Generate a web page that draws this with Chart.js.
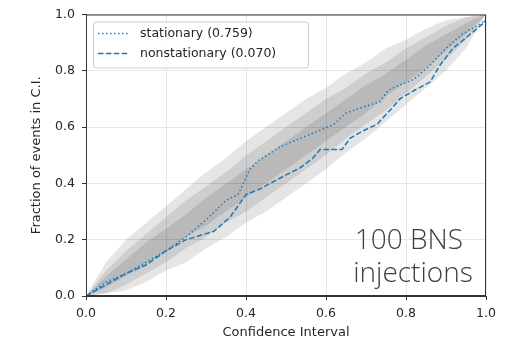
<!DOCTYPE html>
<html>
<head>
<meta charset="utf-8">
<script src="https://cdn.jsdelivr.net/npm/chart.js@4.4.0/dist/chart.umd.min.js"></script>
<style>
  html, body { margin: 0; padding: 0; background: #fff; }
  #wrap { width: 513px; height: 340px; }
</style>
</head>
<body>
<div id="wrap"><canvas id="c" width="513" height="340"></canvas></div>
<script>
// ---- Data ----
const tickLabels = ["0.0", "0.2", "0.4", "0.6", "0.8", "1.0"];

// confidence bands (binomial, 100 injections): x grid and lower/upper edges
const bandX = [0, 0.05, 0.1, 0.15, 0.2, 0.25, 0.3, 0.35, 0.4, 0.45, 0.5, 0.55, 0.6, 0.65, 0.7, 0.75, 0.8, 0.85, 0.9, 0.95, 1.0];
const lo1 = [0, 0.03, 0.07, 0.11, 0.16, 0.21, 0.25, 0.30, 0.35, 0.40, 0.45, 0.50, 0.55, 0.60, 0.65, 0.71, 0.76, 0.81, 0.87, 0.93, 1.0];
const hi1 = [0, 0.07, 0.13, 0.19, 0.24, 0.29, 0.35, 0.40, 0.45, 0.50, 0.55, 0.60, 0.65, 0.70, 0.75, 0.79, 0.84, 0.89, 0.93, 0.97, 1.0];
const lo2 = [0, 0.01, 0.04, 0.08, 0.12, 0.17, 0.21, 0.26, 0.30, 0.35, 0.40, 0.45, 0.50, 0.56, 0.61, 0.66, 0.72, 0.78, 0.84, 0.91, 1.0];
const hi2 = [0, 0.09, 0.16, 0.22, 0.28, 0.34, 0.39, 0.44, 0.50, 0.55, 0.60, 0.65, 0.70, 0.74, 0.79, 0.83, 0.88, 0.92, 0.96, 0.99, 1.0];
const lo3 = [0, 0.01, 0.02, 0.05, 0.09, 0.12, 0.17, 0.21, 0.26, 0.30, 0.35, 0.40, 0.45, 0.51, 0.56, 0.62, 0.68, 0.74, 0.80, 0.88, 1.0];
const hi3 = [0, 0.12, 0.20, 0.26, 0.32, 0.38, 0.44, 0.49, 0.55, 0.60, 0.65, 0.70, 0.74, 0.79, 0.83, 0.88, 0.91, 0.95, 0.98, 0.99, 1.0];

// stationary PP curve
const statX = [0, 0.05, 0.1, 0.15, 0.2, 0.25, 0.3, 0.35, 0.38, 0.41, 0.43, 0.485, 0.535, 0.57, 0.62, 0.65, 0.69, 0.735, 0.755, 0.785, 0.82, 0.86, 0.9, 0.94, 0.985, 1.0];
const statY = [0, 0.05, 0.08, 0.12, 0.16, 0.21, 0.27, 0.34, 0.36, 0.45, 0.48, 0.53, 0.56, 0.58, 0.61, 0.65, 0.67, 0.69, 0.73, 0.75, 0.77, 0.82, 0.88, 0.93, 0.965, 0.98];

// nonstationary PP curve
const nonX = [0, 0.05, 0.1, 0.15, 0.2, 0.25, 0.32, 0.36, 0.385, 0.40, 0.435, 0.46, 0.5, 0.535, 0.5675, 0.585, 0.64, 0.66, 0.69, 0.7275, 0.76, 0.785, 0.82, 0.86, 0.885, 0.9175, 0.9525, 0.99, 1.0];
const nonY = [0, 0.04, 0.08, 0.11, 0.16, 0.20, 0.23, 0.28, 0.33, 0.36, 0.38, 0.40, 0.43, 0.455, 0.49, 0.52, 0.52, 0.56, 0.585, 0.61, 0.66, 0.70, 0.73, 0.76, 0.82, 0.88, 0.92, 0.965, 0.98];

const seriesLabels = ["stationary (0.759)", "nonstationary (0.070)"];
const annotationLines = ["100 BNS", "injections"];

// ---- build ----
const pts = (xs, ys) => xs.map((x, i) => ({ x: x, y: ys[i] }));
const blue = '#1f77b4';
const bandFill = 'rgba(0,0,0,0.1)';

function bandPair(lo, hi, idxLo) {
  return [
    { data: pts(bandX, lo), borderWidth: 0, borderColor: 'rgba(0,0,0,0)', pointRadius: 0, fill: false, order: 5, tension: 0 },
    { data: pts(bandX, hi), borderWidth: 0, borderColor: 'rgba(0,0,0,0)', pointRadius: 0, fill: { target: idxLo }, backgroundColor: bandFill, order: 5, tension: 0 }
  ];
}

const datasets = [
  { label: seriesLabels[0], data: pts(statX, statY), borderColor: blue, borderWidth: 1.5, borderDash: [1.5, 2.5], pointRadius: 0, fill: false, order: 0, tension: 0 },
  { label: seriesLabels[1], data: pts(nonX, nonY), borderColor: blue, borderWidth: 1.5, borderDash: [5.5, 2.4], pointRadius: 0, fill: false, order: 0, tension: 0 },
  ...bandPair(lo3, hi3, 2),
  ...bandPair(lo2, hi2, 4),
  ...bandPair(lo1, hi1, 6)
];

const axisFont = { family: 'DejaVu Sans', size: 12.5 };
const titleFont = { family: 'DejaVu Sans', size: 13 };
const txtColor = '#262626';

const framePlugin = {
  id: 'frame',
  afterDraw(chart) {
    const { ctx, chartArea: a } = chart;
    ctx.save();
    // frame
    ctx.strokeStyle = '#333';
    ctx.lineWidth = 1;
    ctx.strokeRect(a.left + 0.5, a.top + 0.5, a.right - a.left - 1, a.bottom - a.top - 1);

    // legend
    const lx = a.left + 7, ly = a.top + 7, lw = 215, lh = 46;
    ctx.fillStyle = 'rgba(255,255,255,0.8)';
    ctx.strokeStyle = '#cccccc';
    ctx.lineWidth = 1;
    ctx.beginPath();
    if (ctx.roundRect) ctx.roundRect(lx + 0.5, ly + 0.5, lw, lh, 3); else ctx.rect(lx + 0.5, ly + 0.5, lw, lh);
    ctx.fill();
    ctx.stroke();
    ctx.font = '12.5px "DejaVu Sans"';
    ctx.textBaseline = 'middle';
    for (let i = 0; i < 2; i++) {
      const ds = chart.data.datasets[i];
      const yy = ly + 12 + i * 20;
      ctx.strokeStyle = ds.borderColor;
      ctx.lineWidth = ds.borderWidth;
      ctx.setLineDash(ds.borderDash);
      ctx.beginPath();
      ctx.moveTo(lx + 5, yy);
      ctx.lineTo(lx + 35, yy);
      ctx.stroke();
      ctx.setLineDash([]);
      ctx.fillStyle = txtColor;
      ctx.fillText(ds.label, lx + 47, yy);
    }

    // annotation
    ctx.fillStyle = '#404040';
    ctx.font = '300 28px "Open Sans"';
    ctx.textBaseline = 'alphabetic';
    ctx.textAlign = 'left';
    const xs = chart.scales.x, ys = chart.scales.y;
    ctx.fillText(annotationLines[0], xs.getPixelForValue(0.672), ys.getPixelForValue(0.166));
    ctx.fillText(annotationLines[1], xs.getPixelForValue(0.668), ys.getPixelForValue(0.05));
    ctx.restore();
  }
};

new Chart(document.getElementById('c'), {
  type: 'line',
  data: { datasets },
  options: {
    responsive: false,
    animation: false,
    devicePixelRatio: 1,
    layout: { padding: { top: 13, right: 27, left: 0, bottom: 0 } },
    plugins: { legend: { display: false }, tooltip: { enabled: false } },
    scales: {
      x: {
        type: 'linear', min: 0, max: 1,
        border: { color: '#333', width: 1 },
        grid: { color: '#e6e6e6', tickColor: '#333', tickLength: 4 },
        ticks: { stepSize: 0.2, font: axisFont, color: txtColor, padding: 6, maxRotation: 0,
                 callback: (v) => tickLabels[Math.round(v * 5)] },
        title: { display: true, text: 'Confidence Interval', font: titleFont, color: txtColor, padding: { top: 0, bottom: 0 } },
        afterFit(s) { s.height = 44; }
      },
      y: {
        type: 'linear', min: 0, max: 1,
        border: { color: '#333', width: 1 },
        grid: { color: '#e6e6e6', tickColor: '#333', tickLength: 4 },
        ticks: { stepSize: 0.2, font: axisFont, color: txtColor, padding: 7,
                 callback: (v) => tickLabels[Math.round(v * 5)] },
        title: { display: true, text: 'Fraction of events in C.I.', font: titleFont, color: txtColor, padding: { top: 29, bottom: 0 } },
        afterFit(s) { s.width = 86; }
      }
    }
  },
  plugins: [framePlugin]
});
</script>
</body>
</html>
